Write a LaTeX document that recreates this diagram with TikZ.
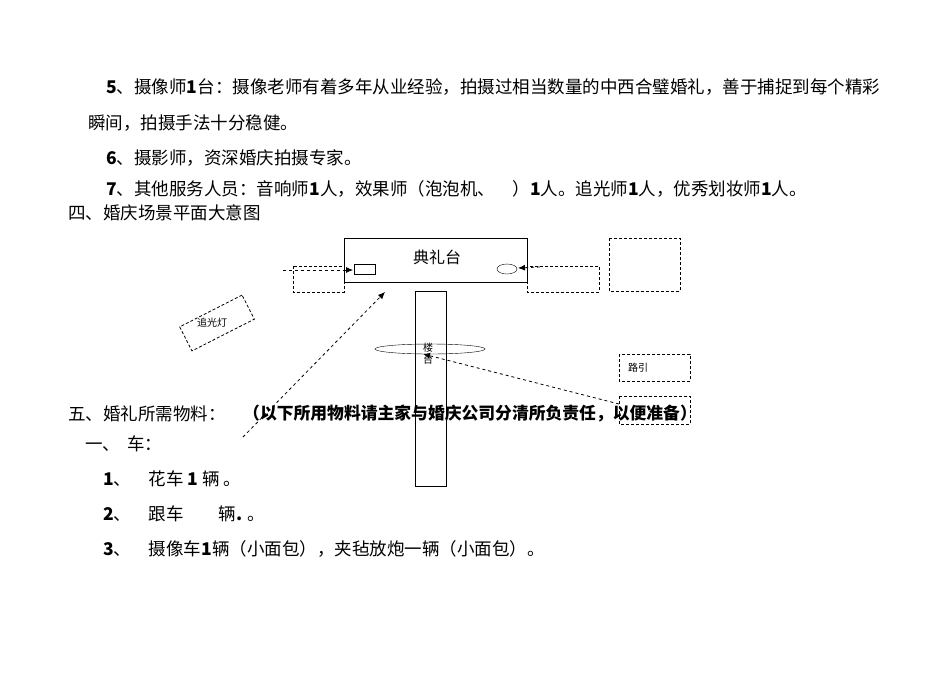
\documentclass[tikz,border=0pt]{standalone}
\usepackage{fontspec}
\setmainfont{Liberation Serif}
\newfontfamily\cjk{Noto Sans CJK SC}
\usetikzlibrary{arrows.meta}
\begin{document}
\begin{tikzpicture}[x=1pt,y=-1pt,
  body/.style={anchor=west,inner sep=0pt,font=\fontsize{17.5}{17.5}\selectfont\cjk},
  small/.style={inner sep=0pt,font=\fontsize{10}{10}\selectfont\cjk},
  dbox/.style={draw,dashed,thick,dash pattern=on 3pt off 2pt},
  darr/.style={draw,dashed,thick,-{Latex[length=7pt,width=6pt]}}]
\useasboundingbox (0,0) rectangle (950,672);
\node[body] (t1) at (106,87) {\textbf{5}、摄像师\textbf{1}台：摄像老师有着多年从业经验，拍摄过相当数量的中西合璧婚礼，善于捕捉到每个精彩};
\node[body] (t2) at (88,123) {瞬间，拍摄手法十分稳健。};
\node[body] (t3) at (106,158) {\textbf{6}、摄影师，资深婚庆拍摄专家。};
\node[body] (t4) at (106,189) {\textbf{7}、其他服务人员：音响师\textbf{1}人，效果师（泡泡机、\quad ）\textbf{1}人。追光师\textbf{1}人，优秀划妆师\textbf{1}人。};
\node[body] (t5) at (68,213) {四、婚庆场景平面大意图};
% diagram
\draw[dbox] (293,266) rectangle (344,292);
\draw[dbox] (527,266) rectangle (599,292);
\draw[dbox] (609,238) rectangle (680,291);
\draw[thick] (344,238) rectangle (527,282);
\node[font=\fontsize{16}{16}\selectfont\cjk] (stage) at (437,257) {典礼台};
\draw (354,264) rectangle (375,274);
\coordinate (sr) at (353,270);
\draw (507,269) ellipse (10 and 5);
\coordinate (el) at (518,268);
\coordinate (la) at (283,270);
\coordinate (ra) at (540,267);
\draw[darr] (la) -- (sr);
\draw[darr] (ra) -- (el);
\draw (415,291) rectangle (446,486);
\draw (430,349) ellipse (55 and 5);
\node[small] (lt) at (428,354) {\shortstack{楼\\台}};
\node[dbox,rotate=27,minimum width=70pt,minimum height=27pt,inner sep=0pt] (zg) at (217,323) {};
\node[small] (zgt) at (212,323) {追光灯};
\draw[dbox] (619,354) rectangle (690,381);
\node[small] (ly) at (638,368) {路引};
\draw[dbox] (619,396) rectangle (690,424);
\coordinate (a1) at (243,437);
\coordinate (a2) at (385,292);
\draw[darr] (a1) -- (a2);
\coordinate (b1) at (619,404);
\coordinate (b2) at (423,354);
\draw[darr] (b1) -- (b2);
% bottom text
\node[body] (t6) at (68,414) {五、婚礼所需物料：};
\node[anchor=west,inner sep=0pt,font=\fontsize{16.8}{16.8}\selectfont\cjk\bfseries] (t7) at (243,414) {（以下所用物料请主家与婚庆公司分清所负责任，以便准备）};
\node[body] (t8) at (85,444) {一、\, 车：};
\node[body] (t9) at (103,479) {\textbf{1}、\quad 花车 \textbf{1} 辆 。};
\node[body] (t10) at (103,514) {\textbf{2}、\quad 跟车\qquad 辆\textbf{.} 。};
\node[body] (t11) at (103,549) {\textbf{3}、\quad 摄像车\textbf{1}辆（小面包），夹毡放炮一辆（小面包）。};
\end{tikzpicture}
\end{document}
